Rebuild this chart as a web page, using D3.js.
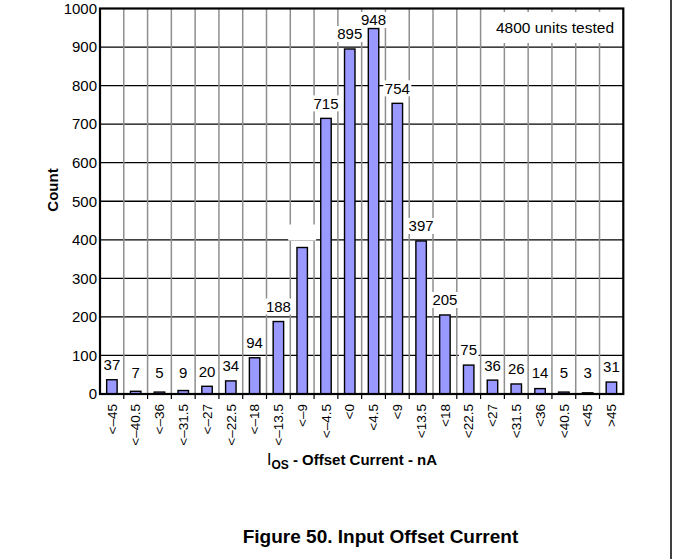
<!DOCTYPE html>
<html>
<head>
<meta charset="utf-8">
<script src="https://cdn.jsdelivr.net/npm/d3@7"></script>
<style>
  html, body { margin: 0; padding: 0; background: #fff; }
  svg { display: block; font-family: "Liberation Sans", Arial, sans-serif; }
</style>
</head>
<body>
<svg id="chart" width="673" height="559"></svg>
<script>
const categories = ["<–45","<–40.5","<–36","<–31.5","<–27","<–22.5","<–18","<–13.5","<–9","<–4.5","<0","<4.5","<9","<13.5","<18","<22.5","<27","<31.5","<36","<40.5","<45",">45"];
const counts = [37, 7, 5, 9, 20, 34, 94, 188, 380, 715, 895, 948, 754, 397, 205, 75, 36, 26, 14, 5, 3, 31];
const valueLabels = ["37","7","5","9","20","34","94","188","","715","895","948","754","397","205","75","36","26","14","5","3","31"];
const yTicks = [0, 100, 200, 300, 400, 500, 600, 700, 800, 900, 1000];
const yTitle = "Count";
const annotation = "4800 units tested";
const caption = "Figure 50. Input Offset Current";

const svg = d3.select("#chart");
const pLeft = 100, pRight = 623.3, pTop = 8.5, pBottom = 394;

const x = d3.scaleBand().domain(categories).range([pLeft, pRight])
  .paddingInner(0.56).paddingOuter(0.28);
const step = x.step();
const bw = x.bandwidth();
const slotLeft = c => x(c) + bw / 2 - step / 2;
const y = d3.scaleLinear().domain([0, 1000]).range([pBottom, pTop]);

// horizontal gridlines
svg.append("g").selectAll("line").data(yTicks.filter(t => t > 0 && t < 1000)).join("line")
  .attr("x1", pLeft).attr("x2", pRight)
  .attr("y1", d => y(d)).attr("y2", d => y(d))
  .attr("stroke", "#000").attr("stroke-width", 1.3);

// vertical gridlines at slot boundaries
svg.append("g").selectAll("line").data(categories.slice(1)).join("line")
  .attr("x1", d => slotLeft(d)).attr("x2", d => slotLeft(d))
  .attr("y1", pTop).attr("y2", pBottom)
  .attr("stroke", "#8f8f8f").attr("stroke-width", 1.5);

// tick marks below x-axis
svg.append("g").selectAll("line").data(categories.slice(1)).join("line")
  .attr("x1", d => slotLeft(d)).attr("x2", d => slotLeft(d))
  .attr("y1", pBottom).attr("y2", pBottom + 5)
  .attr("stroke", "#000").attr("stroke-width", 1.2);

// annotation box
svg.append("rect").attr("x", 486).attr("y", 12).attr("width", pRight - 486).attr("height", 31).attr("fill", "#fff");
svg.append("text").attr("x", 614).attr("y", 33).attr("text-anchor", "end")
  .attr("font-size", 15.5).attr("fill", "#000").text(annotation);

// value labels with white background
const labelG = svg.append("g");
const labelCenter = d => Math.max(Math.min(y(d) - 15, y(0) - 21), 20);
categories.forEach((c, i) => {
  const cx = x(c) + bw / 2;
  const cy = labelCenter(counts[i]);
  const t = labelG.append("text").attr("x", cx).attr("y", cy).attr("dy", "0.36em")
    .attr("text-anchor", "middle").attr("font-size", 15).attr("fill", "#000")
    .text(valueLabels[i]);
  const w = valueLabels[i] ? t.node().getComputedTextLength() + 3 : 28;
  labelG.insert("rect", "text").attr("x", cx - w / 2).attr("y", cy - 8)
    .attr("width", w).attr("height", 16).attr("fill", "#fff");
});

// bars
svg.append("g").selectAll("rect").data(categories).join("rect")
  .attr("x", d => x(d)).attr("width", bw)
  .attr("y", (d, i) => y(counts[i])).attr("height", (d, i) => pBottom - y(counts[i]))
  .attr("fill", "#9999ff").attr("stroke", "#000").attr("stroke-width", 1.4);

// frame
svg.append("rect").attr("x", pLeft).attr("y", pTop).attr("width", pRight - pLeft).attr("height", pBottom - pTop)
  .attr("fill", "none").attr("stroke", "#000").attr("stroke-width", 2.2);

// y axis labels
const yAxis = d3.axisLeft(y).tickValues(yTicks).tickSize(0).tickPadding(3).tickFormat(d3.format("d"));
const ya = svg.append("g").attr("transform", `translate(${pLeft},0)`).call(yAxis);
ya.select(".domain").remove();
ya.selectAll("text").attr("font-size", 15).attr("fill", "#000")
  .attr("font-family", "Liberation Sans, Arial, sans-serif");

// x tick labels
svg.append("g").selectAll("text").data(categories).join("text")
  .attr("transform", d => `translate(${x(d) + bw / 2},404) rotate(-90)`)
  .attr("dy", "0.35em").attr("text-anchor", "end")
  .attr("font-size", 13.5).attr("fill", "#000").text(d => d);

// y title
svg.append("text").attr("transform", "translate(58,190) rotate(-90)")
  .attr("text-anchor", "middle").attr("font-size", 15).attr("font-weight", "bold")
  .attr("fill", "#000").text(yTitle);

// x title with subscript
const xt = svg.append("text").attr("x", 352).attr("y", 465).attr("text-anchor", "middle")
  .attr("font-size", 15).attr("font-weight", "bold").attr("fill", "#000");
xt.append("tspan").attr("font-weight", "normal").attr("font-size", 16).text("I");
xt.append("tspan").attr("font-size", 12).attr("dy", 4).text("OS");
xt.append("tspan").attr("dy", -4).text(" - Offset Current - nA");

// caption
svg.append("text").attr("x", 380.5).attr("y", 543).attr("text-anchor", "middle")
  .attr("font-size", 19).attr("font-weight", "bold").attr("fill", "#000").text(caption);

// right page border
svg.append("line").attr("x1", 671).attr("x2", 671).attr("y1", 0).attr("y2", 559)
  .attr("stroke", "#000").attr("stroke-width", 1.5);
</script>
</body>
</html>
